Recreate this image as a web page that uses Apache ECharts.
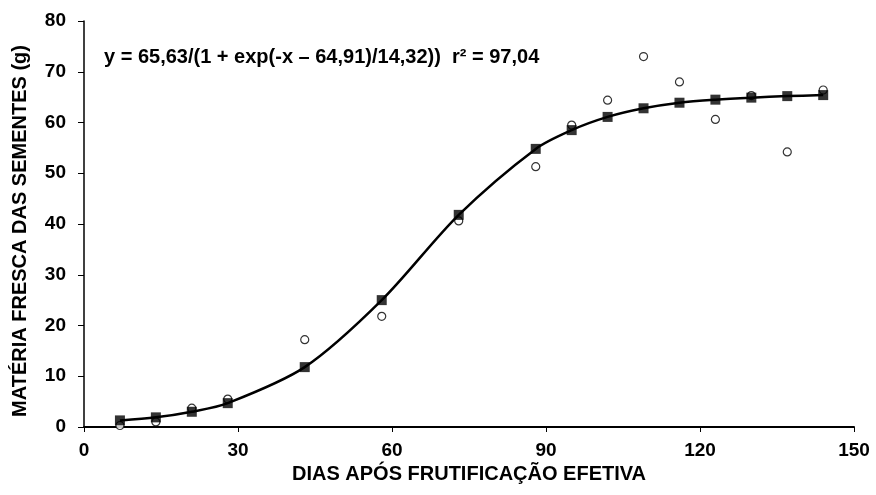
<!DOCTYPE html>
<html><head><meta charset="utf-8">
<script src="https://cdn.jsdelivr.net/npm/echarts@6/dist/echarts.min.js"></script>
<style>html,body{margin:0;padding:0;background:#fff}#c{width:876px;height:495px}</style>
</head><body><div id="c"></div>
<script>
const days = [7,14,21,28,43,58,73,88,95,102,109,116,123,130,137,144];
const fitted = [1.3,1.9,3.0,4.7,11.8,25.0,41.8,54.8,58.5,61.1,62.8,63.9,64.5,64.9,65.2,65.4];
const observed = [0.3,1.0,3.7,5.5,17.2,21.8,40.6,51.3,59.5,64.4,73.0,68.0,60.6,65.3,54.2,66.4];
const xTicks = [0,30,60,90,120,150];
const yTicks = [0,10,20,30,40,50,60,70,80];
const equation = 'y = 65,63/(1 + exp(-x \u2013 64,91)/14,32))  r\u00b2 = 97,04';
const xTitle = 'DIAS APÓS FRUTIFICAÇÃO EFETIVA';
const yTitle = 'MATÉRIA FRESCA DAS SEMENTES (g)';

const font = 'Liberation Sans, Arial, sans-serif';
const chart = echarts.init(document.getElementById('c'), null, {renderer:'canvas'});
chart.setOption({
  animation:false,
  backgroundColor:'#fff',
  grid:{left:84,right:22,top:21,bottom:68,containLabel:false},
  title:{text:equation,left:104,top:47,padding:0,textStyle:{fontFamily:font,fontWeight:'bold',fontSize:20,color:'#000'}},
  xAxis:{type:'value',min:xTicks[0],max:xTicks[xTicks.length-1],interval:30,
    name:xTitle,nameLocation:'middle',nameGap:32,
    nameTextStyle:{fontFamily:font,fontWeight:'bold',fontSize:20,color:'#000'},
    axisLine:{show:true,onZero:false,lineStyle:{color:'#000',width:2}},
    axisTick:{show:true,inside:false,length:5,lineStyle:{color:'#000',width:1}},
    axisLabel:{fontFamily:font,fontWeight:'bold',fontSize:19,color:'#000',margin:14},
    splitLine:{show:false}},
  yAxis:{type:'value',min:yTicks[0],max:yTicks[yTicks.length-1],interval:10,
    name:yTitle,nameLocation:'middle',nameGap:54,nameRotate:90,
    nameTextStyle:{fontFamily:font,fontWeight:'bold',fontSize:20,color:'#000',padding:[0,14,0,0]},
    axisLine:{show:true,onZero:false,lineStyle:{color:'#000',width:1.5}},
    axisTick:{show:true,inside:false,length:6,lineStyle:{color:'#000',width:1}},
    axisLabel:{fontFamily:font,fontWeight:'bold',fontSize:19,color:'#000',margin:18},
    splitLine:{show:false}},
  series:[
    {type:'scatter',data:days.map((d,i)=>[d,observed[i]]),symbol:'circle',symbolSize:8,
     itemStyle:{color:'#fff',borderColor:'#000',borderWidth:1.2},z:2},
    {type:'line',data:days.map((d,i)=>[d,fitted[i]]),smooth:0.3,showSymbol:false,symbol:'none',
     lineStyle:{color:'#000',width:2.5},z:3},
    {type:'scatter',data:days.map((d,i)=>[d,fitted[i]]),symbol:'rect',symbolSize:10,
     itemStyle:{color:'#000'},z:4}
  ]
});
</script></body></html>
